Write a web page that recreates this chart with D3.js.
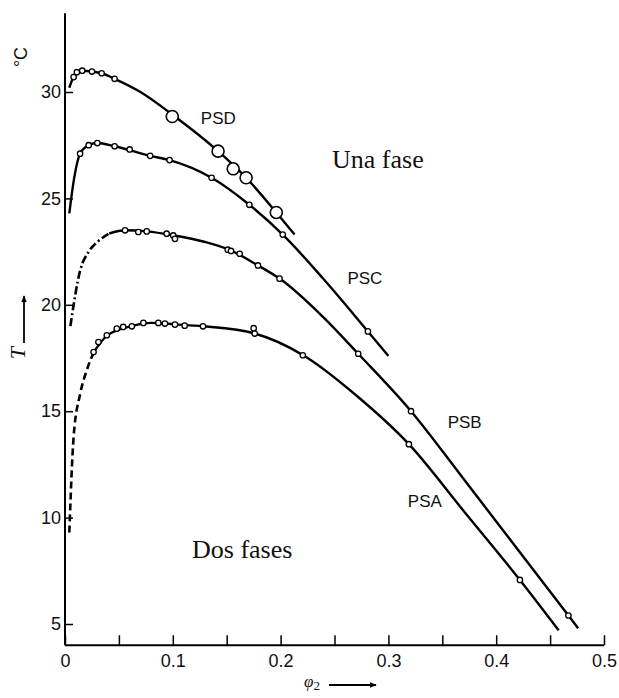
<!DOCTYPE html>
<html>
<head>
<meta charset="utf-8">
<script src="https://cdn.jsdelivr.net/npm/d3@7"></script>
<style>
  body { margin: 0; background: #fff; }
  svg { display: block; }
</style>
</head>
<body>
<div id="chart"></div>
<script>
// phase diagram: T (°C) against phi2 for four polymer fractions
var seriesNames = ["PSA", "PSB", "PSC", "PSD"];

// curve knots [phi2, T]
var psaCurve = [[0.004, 9.3], [0.008, 13.8], [0.014, 15.8], [0.02, 16.9], [0.027, 17.8],
    [0.039, 18.55], [0.062, 19.0], [0.08, 19.15], [0.102, 19.08], [0.128, 18.99],
    [0.176, 18.65], [0.221, 17.63], [0.27, 15.75], [0.319, 13.45], [0.37, 10.3],
    [0.422, 7.07], [0.458, 4.7]];
var psbCurve = [[0.005, 19.0], [0.014, 21.6], [0.022, 22.5], [0.03, 22.95], [0.041, 23.35],
    [0.056, 23.5], [0.076, 23.45], [0.1, 23.27], [0.13, 22.95], [0.154, 22.55],
    [0.179, 21.85], [0.2, 21.2], [0.24, 19.4], [0.272, 17.7], [0.321, 15.0],
    [0.37, 11.8], [0.42, 8.5], [0.467, 5.4], [0.476, 4.8]];
var pscCurve = [[0.004, 24.3], [0.008, 25.8], [0.014, 27.1], [0.022, 27.5], [0.03, 27.6],
    [0.046, 27.45], [0.079, 27.0], [0.097, 26.8], [0.136, 25.97], [0.171, 24.7],
    [0.202, 23.3], [0.24, 21.2], [0.281, 18.75], [0.3, 17.6]];
var psdCurve = [[0.004, 30.2], [0.008, 30.7], [0.016, 31.0], [0.025, 30.96], [0.034, 30.88],
    [0.046, 30.62], [0.07, 30.0], [0.1, 28.92], [0.142, 27.22], [0.168, 25.97],
    [0.196, 24.34], [0.213, 23.3]];

// phi2 where the broken (dashed) start of each curve ends
var seriesBreak = [0.027, 0.041, 0, 0];
var seriesDash = ["7,4", "8,3,2,3", null, null];

// measured points [phi2, T]
var psaPoints = [[0.0265, 17.78], [0.031, 18.25], [0.0388, 18.57], [0.048, 18.88],
    [0.054, 18.96], [0.062, 18.99], [0.0727, 19.15], [0.0866, 19.15], [0.0927, 19.12],
    [0.102, 19.07], [0.111, 19.02], [0.128, 18.99], [0.176, 18.65], [0.175, 18.9],
    [0.2206, 17.63], [0.319, 13.45], [0.422, 7.07]];
var psbPoints = [[0.0557, 23.5], [0.068, 23.42], [0.0758, 23.45], [0.0943, 23.34],
    [0.1004, 23.26], [0.102, 23.1], [0.151, 22.59], [0.154, 22.53], [0.162, 22.4],
    [0.179, 21.85], [0.199, 21.23], [0.272, 17.7], [0.321, 15.0], [0.467, 5.4]];
var pscPoints = [[0.014, 27.1], [0.022, 27.5], [0.03, 27.6], [0.046, 27.45], [0.06, 27.3],
    [0.079, 27.0], [0.097, 26.8], [0.136, 25.97], [0.171, 24.7], [0.202, 23.3],
    [0.281, 18.75]];
var psdPoints = [[0.008, 30.7], [0.011, 30.93], [0.016, 31.0], [0.025, 30.96],
    [0.034, 30.88], [0.046, 30.62]];
var psdBigPoints = [[0.0995, 28.85], [0.142, 27.22], [0.156, 26.39], [0.168, 25.97],
    [0.196, 24.34]];

// series label anchors [phi2, T]
var seriesLabelPos = [[0.318, 10.5], [0.355, 14.2], [0.262, 21.0], [0.126, 28.5]];

var xTicks = [0, 0.05, 0.1, 0.15, 0.2, 0.25, 0.3, 0.35, 0.4, 0.45, 0.5];
var yTicks = [5, 10, 15, 20, 25, 30];

var width = 619, height = 698;

var x = d3.scaleLinear().domain([0, 0.5]).range([65, 604]);
var y = d3.scaleLinear().domain([5, 30]).range([624, 92]);

var svg = d3.select("#chart").append("svg")
    .attr("width", width)
    .attr("height", height)
    .style("background", "#fff");

var axisFont = "'Liberation Sans', Arial, sans-serif";

// axis lines, drawn by hand because they run past the tick range
svg.append("line")
    .attr("x1", x(0)).attr("x2", x(0))
    .attr("y1", y(4.0)).attr("y2", y(33.7))
    .attr("stroke", "#000").attr("stroke-width", 2);
svg.append("line")
    .attr("x1", x(0)).attr("x2", x(0.5))
    .attr("y1", y(4.0)).attr("y2", y(4.0))
    .attr("stroke", "#000").attr("stroke-width", 2);

var yAxis = svg.append("g")
    .attr("transform", "translate(" + x(0) + ",0)")
    .call(d3.axisLeft(y).tickValues(yTicks).tickSize(-8).tickSizeOuter(0).tickPadding(4));
yAxis.select(".domain").remove();
yAxis.selectAll("line").attr("stroke", "#000").attr("stroke-width", 1.5);
yAxis.selectAll("text")
    .style("font", "18px " + axisFont)
    .attr("fill", "#111");

var xAxis = svg.append("g")
    .attr("transform", "translate(0," + y(4.0) + ")")
    .call(d3.axisBottom(x).tickValues(xTicks).tickSize(-10).tickSizeOuter(0).tickPadding(9)
        .tickFormat(function(d) {
            var k = Math.round(d * 100);
            if (k % 10 != 0) return "";
            return k == 0 ? "0" : d.toFixed(1);
        }));
xAxis.select(".domain").remove();
xAxis.selectAll("line").attr("stroke", "#000").attr("stroke-width", 1.5);
xAxis.selectAll("text")
    .style("font", "18px " + axisFont)
    .attr("fill", "#111");

// curves
var line = d3.line()
    .x(function(d) { return x(d[0]); })
    .y(function(d) { return y(d[1]); })
    .curve(d3.curveMonotoneX);

var curves = [psaCurve, psbCurve, pscCurve, psdCurve];
curves.forEach(function(c, i) {
    var brk = seriesBreak[i];
    var head = c.filter(function(d) { return d[0] <= brk; });
    var tail = c.filter(function(d) { return d[0] >= brk; });
    if (head.length > 1) {
        svg.append("path")
            .attr("d", line(head))
            .attr("fill", "none")
            .attr("stroke", "#000")
            .attr("stroke-width", 2.6)
            .attr("stroke-dasharray", seriesDash[i]);
    }
    svg.append("path")
        .attr("d", line(tail))
        .attr("fill", "none")
        .attr("stroke", "#000")
        .attr("stroke-width", 2.4);
});

// measured points
var smallPts = [].concat(psaPoints, psbPoints, pscPoints, psdPoints);
svg.selectAll("circle.small")
    .data(smallPts)
    .enter().append("circle")
        .attr("class", "small")
        .attr("cx", function(d) { return x(d[0]); })
        .attr("cy", function(d) { return y(d[1]); })
        .attr("r", 2.7)
        .attr("fill", "#fff")
        .attr("stroke", "#000")
        .attr("stroke-width", 1.3);

svg.selectAll("circle.big")
    .data(psdBigPoints)
    .enter().append("circle")
        .attr("class", "big")
        .attr("cx", function(d) { return x(d[0]); })
        .attr("cy", function(d) { return y(d[1]); })
        .attr("r", 6)
        .attr("fill", "#fff")
        .attr("stroke", "#000")
        .attr("stroke-width", 1.6);

// series names
svg.selectAll("text.series")
    .data(seriesNames)
    .enter().append("text")
        .attr("class", "series")
        .attr("x", function(d, i) { return x(seriesLabelPos[i][0]); })
        .attr("y", function(d, i) { return y(seriesLabelPos[i][1]); })
        .text(function(d) { return d; })
        .style("font", "17px " + axisFont)
        .attr("fill", "#111");

// region labels
svg.append("text")
    .attr("x", 332).attr("y", 168)
    .text("Una fase")
    .style("font", "26px 'Liberation Serif', 'Times New Roman', serif")
    .attr("fill", "#111");
svg.append("text")
    .attr("x", 192).attr("y", 558)
    .text("Dos fases")
    .style("font", "26px 'Liberation Serif', 'Times New Roman', serif")
    .attr("fill", "#111");

// axis titles
svg.append("text")
    .attr("transform", "translate(27,57) rotate(-90)")
    .attr("text-anchor", "middle")
    .text("°C")
    .style("font", "18px " + axisFont)
    .attr("fill", "#111");

svg.append("text")
    .attr("transform", "translate(25,353) rotate(-90)")
    .attr("text-anchor", "middle")
    .text("T")
    .style("font", "italic 22px 'Liberation Serif', serif")
    .attr("fill", "#111");

svg.append("defs").append("marker")
    .attr("id", "arrow")
    .attr("viewBox", "0 0 10 10")
    .attr("refX", 9).attr("refY", 5)
    .attr("markerWidth", 4).attr("markerHeight", 4)
    .attr("orient", "auto")
    .append("path")
        .attr("d", "M0,1L10,5L0,9Z")
        .attr("fill", "#000");

svg.append("line")
    .attr("x1", 24).attr("x2", 24)
    .attr("y1", 343).attr("y2", 296)
    .attr("stroke", "#000").attr("stroke-width", 1.8)
    .attr("marker-end", "url(#arrow)");

var phiLabel = svg.append("text")
    .attr("x", 304).attr("y", 687)
    .style("font", "italic 17px 'Liberation Serif', serif")
    .attr("fill", "#111");
phiLabel.append("tspan").text("φ");
phiLabel.append("tspan").attr("dy", 3).style("font-size", "13px").style("font-style", "normal").text("2");

svg.append("line")
    .attr("x1", 329).attr("x2", 376)
    .attr("y1", 685).attr("y2", 685)
    .attr("stroke", "#000").attr("stroke-width", 1.8)
    .attr("marker-end", "url(#arrow)");
</script>
</body>
</html>
